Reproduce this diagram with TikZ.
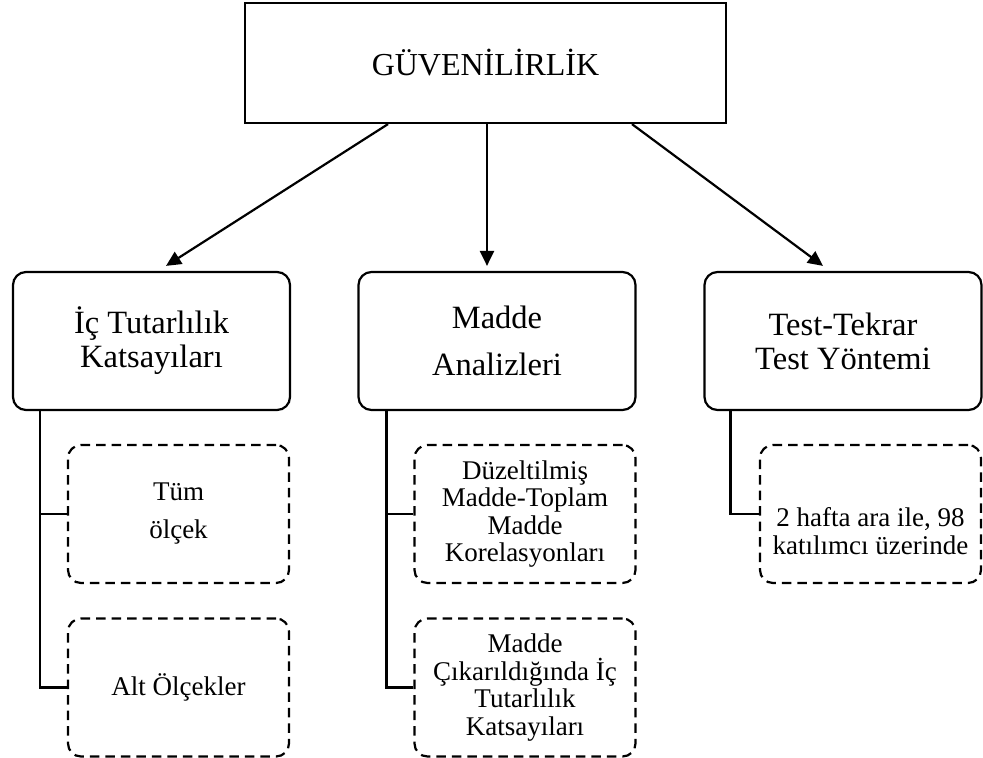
\documentclass[tikz,border=0pt]{standalone}
\usepackage{fontspec}
\setmainfont{Liberation Serif}
\usetikzlibrary{arrows.meta,calc}
\begin{document}
\begin{tikzpicture}[x=1pt,y=-1pt,
 solidbox/.style={draw,line width=2.2pt,align=center,inner sep=0pt},
 roundbox/.style={solidbox,rounded corners=13pt,minimum width=277pt,minimum height=138pt},
 dashbox/.style={draw,line width=2.2pt,dash pattern=on 9.5pt off 6pt,rounded corners=13pt,minimum width=221pt,minimum height=138pt,align=center,inner sep=0pt},
 arrowline/.style={line width=2.2pt,-{Triangle[length=15pt,width=14pt]}},
 branch/.style={line width=2.2pt},
 bigtext/.style={font=\fontsize{32.5}{34}\selectfont},
 smalltext/.style={font=\fontsize{27}{27.5}\selectfont}]
\useasboundingbox (0,0) rectangle (983,758);
\node[solidbox,minimum width=481pt,minimum height=120pt,font=\fontsize{32}{34}\selectfont] (top) at (485.5,63) {\raisebox{-7pt}{GÜVENİLİRLİK}};
\node[roundbox,bigtext] (ic) at (151.5,341) {İç Tutarlılık\\Katsayıları};
\node[roundbox,font=\fontsize{32.5}{47}\selectfont] (madde) at (497,341) {Madde\\Analizleri};
\node[roundbox,bigtext] (test) at (843,341) {Test-Tekrar\\Test Yöntemi};
\node[dashbox,font=\fontsize{27}{38}\selectfont] (tum) at (178.5,514) {Tüm\\ölçek};
\node[dashbox,smalltext] (alt) at (178.5,687.5) {Alt Ölçekler};
\node[dashbox,smalltext] (duz) at (525,514) {Düzeltilmiş\\Madde-Toplam\\Madde\\Korelasyonları};
\node[dashbox,smalltext] (cik) at (525,687.5) {Madde\\Çıkarıldığında İç\\Tutarlılık\\Katsayıları};
\node[dashbox] (hafta) at (870.5,514) {};
\node[smalltext,align=center,inner sep=0pt] (haftatext) at (870.5,531) {2 hafta ara ile, 98\\katılımcı üzerinde};
\draw[arrowline] ([xshift=-97.5pt]top.south) -- ([xshift=14.5pt,yshift=5pt]ic.north);
\draw[arrowline] ([xshift=1.5pt]top.south) -- ([xshift=-10pt,yshift=5pt]madde.north);
\draw[arrowline] ([xshift=146.5pt]top.south) -- ([xshift=-20pt,yshift=5pt]test.north);
\coordinate (icb) at ([xshift=28pt]ic.south west);
\coordinate (mb) at ([xshift=29pt]madde.south west);
\coordinate (tb) at ([xshift=27pt]test.south west);
\draw[branch] (icb) |- (alt.west);
\draw[branch] (icb |- tum.west) -- (tum.west);
\draw[branch] (mb) |- (cik.west);
\draw[branch] (mb |- duz.west) -- (duz.west);
\draw[branch] (tb) |- (hafta.west);
\end{tikzpicture}
\end{document}
